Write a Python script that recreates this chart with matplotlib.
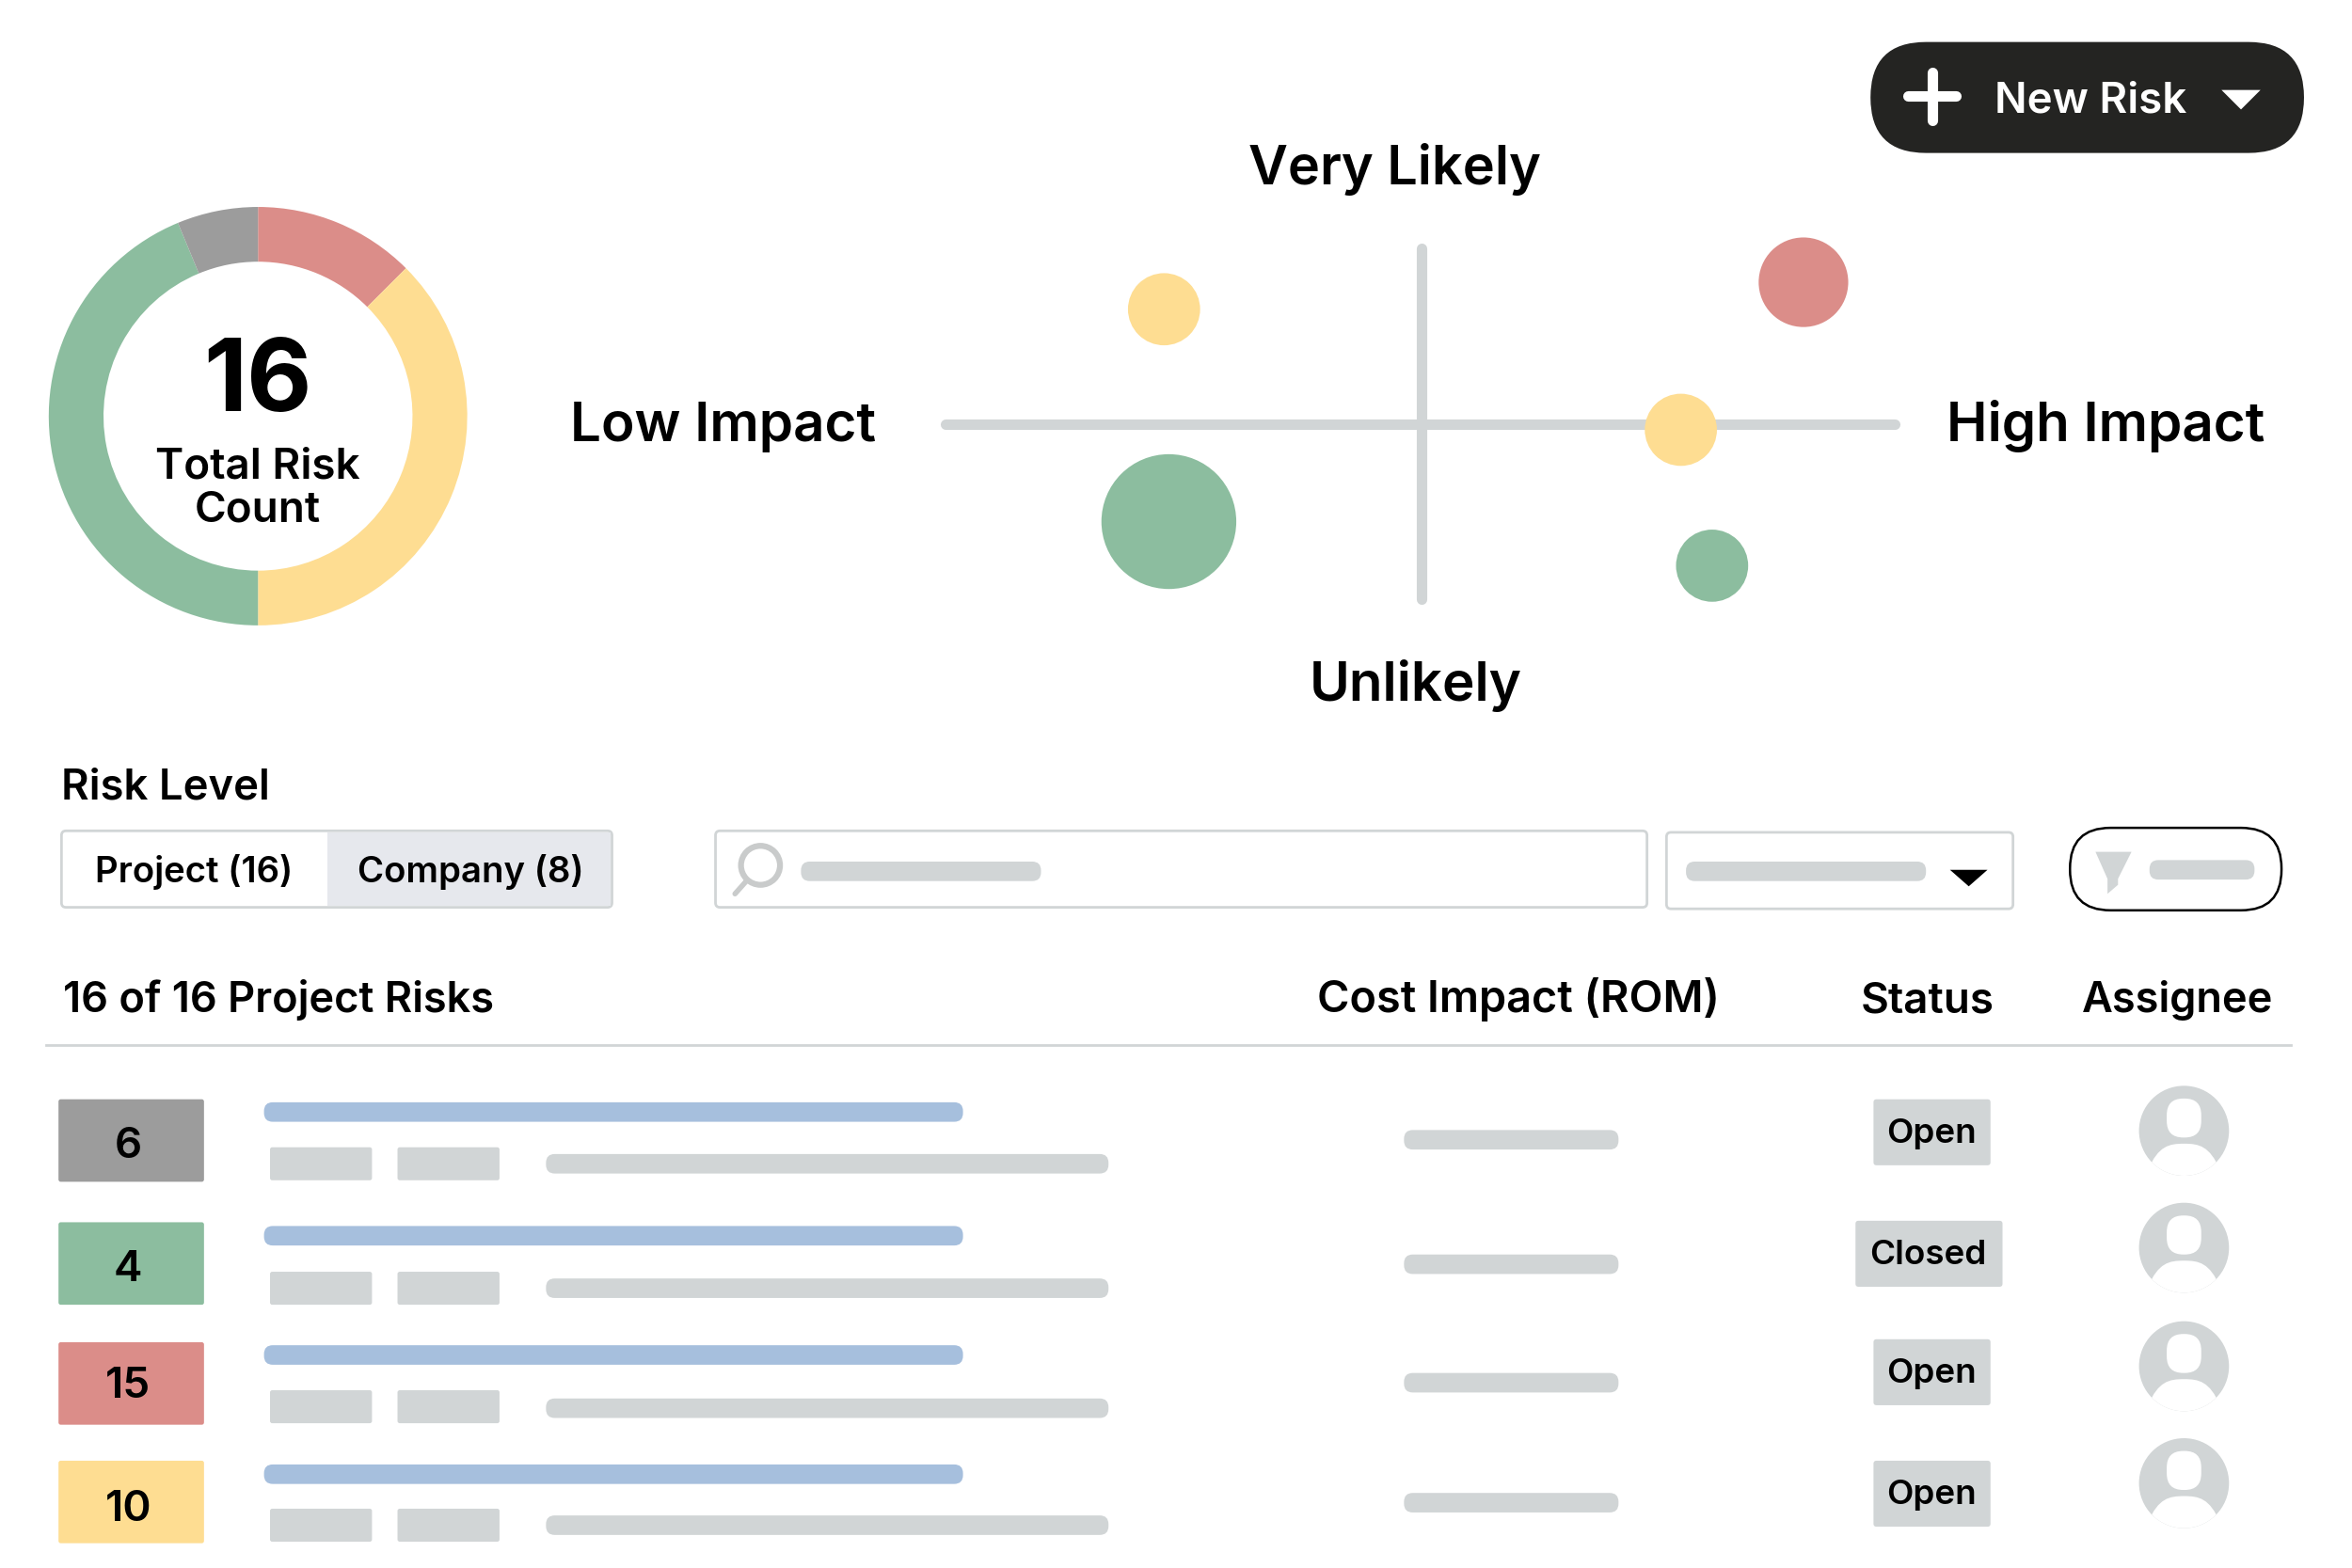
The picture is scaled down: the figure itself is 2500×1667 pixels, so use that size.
import matplotlib
matplotlib.use("Agg")
import matplotlib.pyplot as plt
from matplotlib.patches import FancyBboxPatch, Rectangle, Circle, Polygon, PathPatch
from matplotlib.path import Path

FONT = "Inter"
plt.rcParams["font.family"] = [FONT, "DejaVu Sans"]

# ---- data ----
donut_labels = ["High", "Medium", "Low", "Unrated"]
donut_counts = [2, 6, 7, 1]
total_risks = "16"

bubble_impact = [-0.535, 0.795, 0.54, -0.525, 0.605]
bubble_likelihood = [0.64, 0.79, -0.03, -0.54, -0.785]
bubble_weight = [6.1, 9.4, 6.1, 21.3, 6.1]
bubble_level = ["Medium", "High", "Medium", "Low", "Low"]

row_scores = ["6", "4", "15", "10"]
row_levels = ["Unrated", "Low", "High", "Medium"]
row_status = ["Open", "Closed", "Open", "Open"]

level_colors = {"High": "#DB8D89", "Medium": "#FEDD92", "Low": "#8CBD9F", "Unrated": "#9C9C9C"}
GRAY = "#D1D5D6"
BLUE = "#A6BFDD"
DARK = "#242422"

fig = plt.figure(figsize=(25, 16.67), dpi=100, facecolor="white")
W = 1568.0
H = W * 1667 / 2500
ax = fig.add_axes([0, 0, 1, 1])
ax.set_xlim(0, W)
ax.set_ylim(H, 0)
ax.axis("off")


def axes_box(x0, y0, x1, y1):
    return fig.add_axes([x0 / W, 1 - y1 / H, (x1 - x0) / W, (y1 - y0) / H])


def T(x, y, s, size, color="black", ha="center", weight=600):
    ax.text(x, y, s, fontsize=size, color=color, ha=ha, va="baseline", fontweight=weight, zorder=10)


def bar(x0, x1, yc, h=13, color=GRAY, z=3):
    r = h * 0.45
    ax.add_patch(FancyBboxPatch((x0 + r, yc - h / 2 + r), x1 - x0 - 2 * r, h - 2 * r,
                                boxstyle=f"round,pad={r},rounding_size={r}",
                                fc=color, ec="none", zorder=z))


def box(x0, y0, x1, y1, fc="none", ec="none", lw=0, r=2, z=2):
    ax.add_patch(FancyBboxPatch((x0 + r, y0 + r), x1 - x0 - 2 * r, y1 - y0 - 2 * r,
                                boxstyle=f"round,pad={r},rounding_size={r}",
                                fc=fc, ec=ec, lw=lw, zorder=z))


# ---- donut ----
dax = axes_box(172 - 139.5, 277.5 - 139.5, 172 + 139.5, 277.5 + 139.5)
dax.pie(donut_counts, colors=[level_colors[k] for k in donut_labels], startangle=90,
        counterclock=False, radius=1.0, wedgeprops=dict(width=1 - 103 / 139.5, linewidth=0))
dax.set_xlim(-1, 1)
dax.set_ylim(-1, 1)
dax.set_aspect("auto")
T(172, 274, total_risks, 77, weight=700)
T(172, 319, "Total Risk", 33)
T(172, 347.5, "Count", 33)

# ---- bubble matrix ----
bax = axes_box(627, 163, 1268, 403)
bax.set_xlim(-1, 1)
bax.set_ylim(-1, 1)
bax.axis("off")
bax.patch.set_alpha(0)
bax.plot([-0.99, 0.985], [0, 0], color=GRAY, lw=8, solid_capstyle="round", zorder=1, clip_on=False)
bax.plot([0, 0], [-0.97, 0.98], color=GRAY, lw=8, solid_capstyle="round", zorder=1, clip_on=False)
bax.scatter(bubble_impact, bubble_likelihood, s=[v * 500 for v in bubble_weight],
            c=[level_colors[k] for k in bubble_level], linewidths=0, zorder=3, clip_on=False)

T(930, 123, "Very Likely", 41.5)
T(943.5, 467.5, "Unlikely", 42)
T(482, 294, "Low Impact", 42)
T(1403.5, 294, "High Impact", 42)

# ---- new risk button ----
box(1247, 28, 1536, 102, fc=DARK, r=37)
ax.plot([1272, 1304], [64, 64], color="white", lw=8, solid_capstyle="round", zorder=5)
ax.plot([1288, 1288], [48, 80], color="white", lw=8, solid_capstyle="round", zorder=5)
T(1393.5, 75, "New Risk", 32.8, color="white")
ax.add_patch(Polygon([(1481, 60), (1507, 60), (1494, 73)], closed=True, fc="white", ec="none", zorder=5))

# ---- filters ----
T(41, 533, "Risk Level", 32.7, ha="left")
box(41, 554, 408, 605, fc="white", ec=GRAY, lw=2, r=3)
ax.add_patch(Rectangle((218, 555), 189, 49, fc="#E6E8ED", ec="none", zorder=3))
T(129.5, 588.5, "Project (16)", 27.6)
T(313.5, 588.5, "Company (8)", 27.6)

box(477, 554, 1098, 605, fc="white", ec=GRAY, lw=2, r=3)
ax.add_patch(Circle((507, 577), 13, fc="none", ec="#C9CBCB", lw=4.5, zorder=4))
ax.plot([498, 490], [587, 596], color="#C9CBCB", lw=4, solid_capstyle="round", zorder=4)
bar(534, 694, 581)

box(1111, 555, 1342, 606, fc="white", ec=GRAY, lw=2, r=3)
bar(1124, 1284, 581)
ax.add_patch(Polygon([(1300, 580), (1325, 580), (1312.5, 591)], closed=True, fc="black", ec="none", zorder=5))

box(1380, 552, 1521, 607, fc="white", ec="black", lw=1.8, r=27)
ax.add_patch(Polygon([(1397, 568), (1421, 568), (1412, 586), (1412, 590), (1405, 596), (1405, 586)],
                     closed=True, fc=GRAY, ec="none", zorder=5))
bar(1433, 1503, 580, h=13)

# ---- table header ----
T(42, 675, "16 of 16 Project Risks", 32.5, ha="left")
T(1012, 675, "Cost Impact (ROM)", 33.7)
T(1285, 675, "Status", 33)
T(1452, 675, "Assignee", 32.5)
ax.plot([31, 1527], [697, 697], color=GRAY, lw=2, zorder=2)

# ---- rows ----
badge_top = [733, 815, 895, 974]
blue_y = [741.5, 824, 903.5, 983]
chip_top = [765, 848, 927, 1006]
long_y = [776, 859, 939, 1017]
cost_y = [760, 843, 922, 1002]
status_top = [733, 814, 893, 974]
avatar_y = [754, 832, 911, 989]
score_base = [772, 854, 932, 1014]

for i, (score, level, status) in enumerate(zip(row_scores, row_levels, row_status)):
    box(39, badge_top[i], 136, badge_top[i] + 55, fc=level_colors[level], r=1.5)
    T(85.5, score_base[i], score, 33)
    bar(176, 642, blue_y[i], color=BLUE)
    box(180, chip_top[i], 248, chip_top[i] + 22, fc=GRAY, r=1.5)
    box(265, chip_top[i], 333, chip_top[i] + 22, fc=GRAY, r=1.5)
    bar(364, 739, long_y[i])
    bar(936, 1079, cost_y[i])
    if status == "Closed":
        x0, x1 = 1237, 1335
    else:
        x0, x1 = 1249, 1327
    box(x0, status_top[i], x1, status_top[i] + 44, fc=GRAY, r=2)
    T((x0 + x1) / 2 - 0.5, status_top[i] + 29, status, 26.5)

    cx, cy = 1456, avatar_y[i]
    disc = Circle((cx, cy), 30, fc=GRAY, ec="none", zorder=3)
    ax.add_patch(disc)
    box(cx - 11.5, cy - 21.5, cx + 11.5, cy + 4.5, fc="white", r=11, z=4)
    verts = [(cx - 24, cy + 26), (cx - 17, cy + 10), (cx - 10, cy + 8.6), (cx, cy + 8.6),
             (cx + 10, cy + 8.6), (cx + 17, cy + 10), (cx + 24, cy + 26),
             (cx + 24, cy + 32), (cx - 24, cy + 32), (cx - 24, cy + 26)]
    codes = [Path.MOVETO, Path.CURVE4, Path.CURVE4, Path.CURVE4, Path.CURVE4, Path.CURVE4, Path.CURVE4,
             Path.LINETO, Path.LINETO, Path.CLOSEPOLY]
    body = PathPatch(Path(verts, codes), fc="white", ec="none", zorder=4)
    ax.add_patch(body)
    body.set_clip_path(disc)

fig.savefig("out.png", dpi=100, facecolor="white")
